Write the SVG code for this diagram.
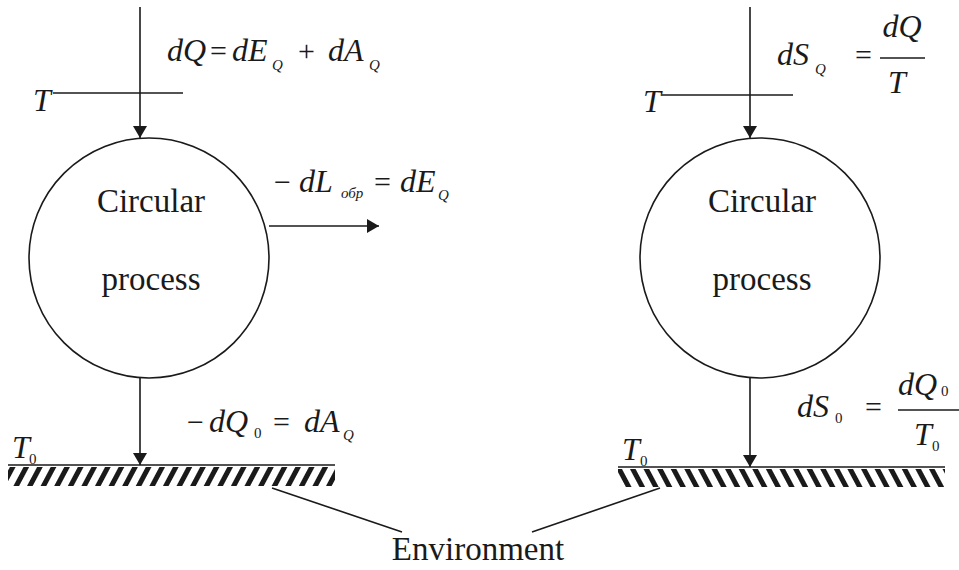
<svg xmlns="http://www.w3.org/2000/svg" width="959" height="570" viewBox="0 0 959 570">
<style>
.ln{stroke:#1a1a1a;stroke-width:1.6;fill:none}
text{font-family:'Times New Roman','Liberation Serif',Tinos,'Nimbus Roman','DejaVu Serif',serif;fill:#1a1a1a}
.m{font-style:italic;font-size:32px}
.up{font-style:normal;font-size:30px}
.sb{font-style:italic;font-size:15px}
.s0{font-style:normal;font-size:15px}
.lbl{font-size:33px;text-anchor:middle}
</style>
<defs>
<marker id="ah" viewBox="0 0 12 14" refX="12" refY="7" markerWidth="12" markerHeight="14" markerUnits="userSpaceOnUse" orient="auto">
<path d="M0,0 L12,7 L0,14 Z" fill="#1a1a1a"/>
</marker>
<pattern id="hl" width="12" height="12" patternUnits="userSpaceOnUse" patternTransform="rotate(28)">
<rect x="0" y="0" width="5" height="12" fill="#1a1a1a"/>
</pattern>
<pattern id="hr" width="12" height="12" patternUnits="userSpaceOnUse" patternTransform="rotate(-28)">
<rect x="0" y="0" width="5" height="12" fill="#1a1a1a"/>
</pattern>
</defs>
<rect width="959" height="570" fill="#ffffff"/>

<g id="process-left">
<circle cx="149" cy="258" r="120" class="ln"/>
<text class="lbl" x="151" y="212" font-family="Liberation Serif, serif">Circular</text>
<text class="lbl" x="151" y="290">process</text>
</g>
<g id="process-right">
<circle cx="760" cy="258" r="120" class="ln"/>
<text class="lbl" x="762" y="212">Circular</text>
<text class="lbl" x="762" y="290">process</text>
</g>

<g id="source-left">
<line x1="53" y1="93" x2="183" y2="93" class="ln"/>
<text class="m" x="33" y="111" font-size="34">T</text>
</g>
<g id="source-right">
<line x1="662" y1="95" x2="793" y2="95" class="ln"/>
<text class="m" x="643" y="112" font-size="34">T</text>
</g>

<g id="environment-left">
<line x1="8" y1="465" x2="335" y2="465" class="ln"/>
<rect x="8" y="467" width="327" height="19" fill="url(#hl)"/>
<text class="m" x="12" y="458" font-size="27">T</text>
<text class="s0" x="29" y="464">0</text>
</g>
<g id="environment-right">
<line x1="618" y1="467" x2="945" y2="467" class="ln"/>
<rect x="618" y="469" width="327" height="18" fill="url(#hr)"/>
<text class="m" x="622" y="460" font-size="27">T</text>
<text class="s0" x="640" y="466">0</text>
</g>

<g id="environment-label">
<text class="lbl" x="478" y="560">Environment</text>
</g>

<g id="connectors">
<line x1="140" y1="7" x2="140" y2="138" class="ln" marker-end="url(#ah)"/>
<line x1="750" y1="7" x2="750" y2="138" class="ln" marker-end="url(#ah)"/>
<line x1="269" y1="226" x2="379" y2="226" class="ln" marker-end="url(#ah)"/>
<line x1="140" y1="378" x2="140" y2="465" class="ln" marker-end="url(#ah)"/>
<line x1="750" y1="378" x2="750" y2="467" class="ln" marker-end="url(#ah)"/>
<line x1="272" y1="488" x2="402" y2="532" class="ln"/>
<line x1="660" y1="488" x2="532" y2="532" class="ln"/>
</g>

<g id="eq-top-left">
<text class="m" x="167" y="61">dQ</text>
<text class="up" x="210" y="61">=</text>
<text class="m" x="232" y="61">dE</text>
<text class="sb" x="272" y="70">Q</text>
<text class="up" x="298" y="61">+</text>
<text class="m" x="328" y="61">dA</text>
<text class="sb" x="369" y="70">Q</text>
</g>
<g id="eq-middle">
<text class="up" x="274" y="192">−</text>
<text class="m" x="299" y="192">dL</text>
<text class="sb" x="341" y="198" font-size="13">обр</text>
<text class="up" x="374" y="192">=</text>
<text class="m" x="400" y="192">dE</text>
<text class="sb" x="438" y="200">Q</text>
</g>
<g id="eq-bottom-left">
<text class="up" x="187" y="432">−</text>
<text class="m" x="209" y="432">dQ</text>
<text class="s0" x="254" y="438">0</text>
<text class="up" x="273" y="432">=</text>
<text class="m" x="304" y="432">dA</text>
<text class="sb" x="343" y="440">Q</text>
</g>
<g id="eq-top-right">
<text class="m" x="777" y="65">dS</text>
<text class="sb" x="815" y="74">Q</text>
<text class="up" x="855" y="65">=</text>
<text class="m" x="902" y="37" text-anchor="middle">dQ</text>
<line x1="880" y1="58" x2="925" y2="58" class="ln"/>
<text class="m" x="897" y="93" text-anchor="middle">T</text>
</g>
<g id="eq-bottom-right">
<text class="m" x="797" y="417">dS</text>
<text class="s0" x="835" y="423">0</text>
<text class="up" x="865" y="417">=</text>
<text class="m" x="898" y="395">dQ</text>
<text class="s0" x="941" y="396">0</text>
<line x1="898" y1="410" x2="959" y2="410" class="ln"/>
<text class="m" x="914" y="445">T</text>
<text class="s0" x="932" y="451">0</text>
</g>
</svg>
